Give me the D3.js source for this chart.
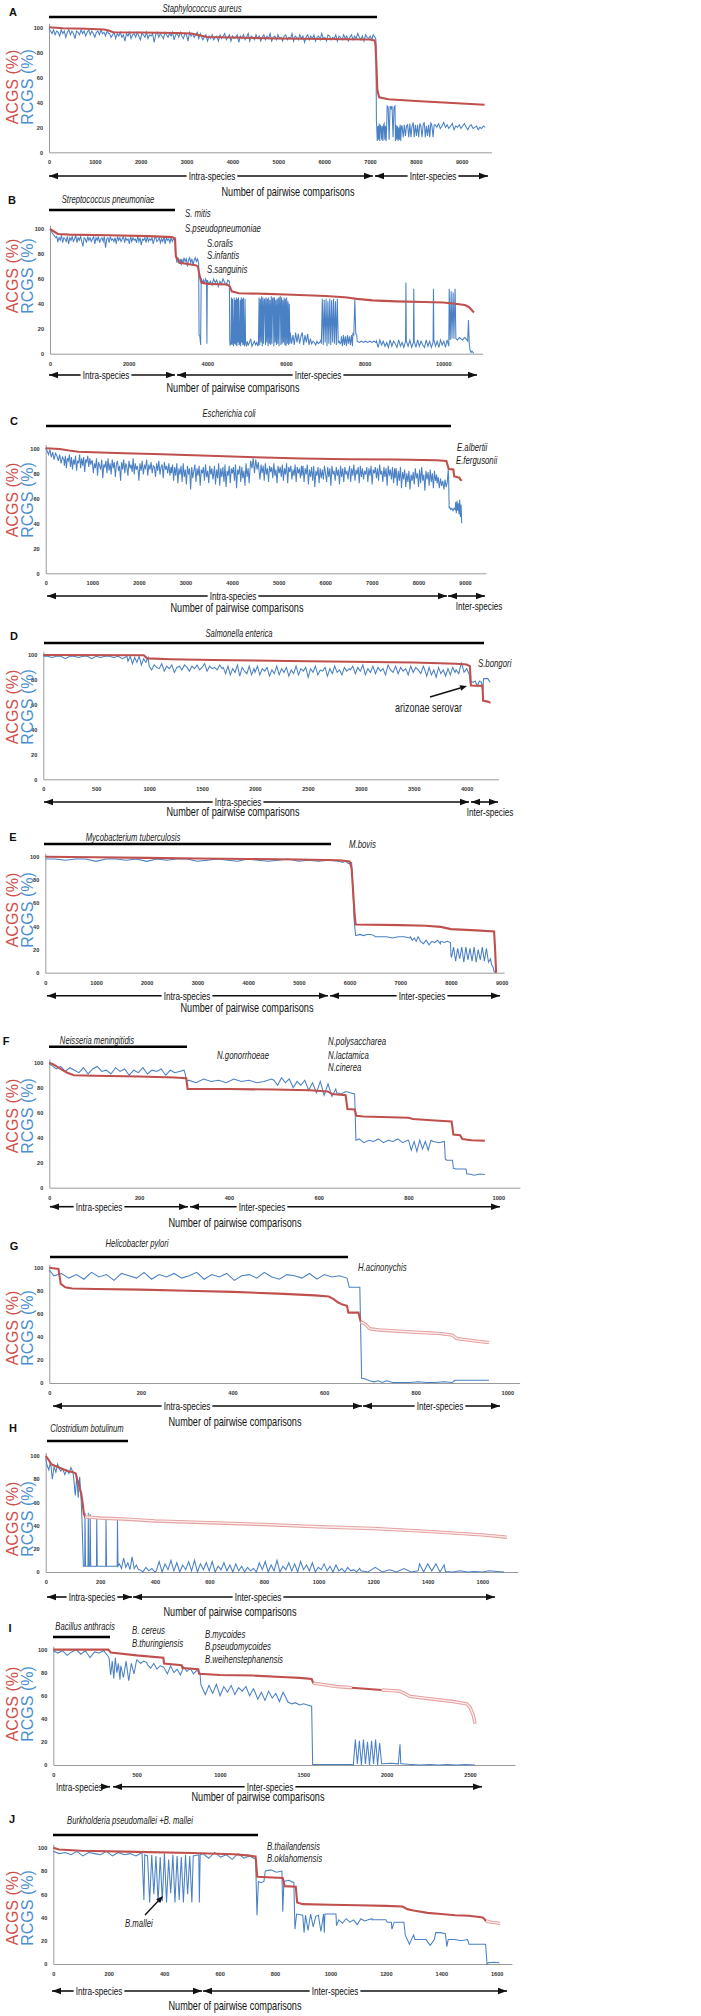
<!DOCTYPE html>
<html><head><meta charset="utf-8">
<script src="https://cdnjs.cloudflare.com/ajax/libs/d3/7.8.5/d3.min.js"></script>
<style>body{margin:0;background:#fff}svg{display:block}</style>
</head><body>
<svg id="c" width="701" height="2016"></svg>
<script>
// ---------------- DATA ----------------
// Series elements: [x,y] single point, or [xStart,xEnd,[y...]] values spread evenly over the comparison-index range
const yTicks=[0,20,40,60,80,100];

const A_title="Staphylococcus aureus";
const A_xticks=[0,1000,2000,3000,4000,5000,6000,7000,8000,9000];
const A_acgs=[[0,100],[300,99.3],[800,98.8],[1200,98.3],[1300,97.5],[1400,96],[2000,95.8],[2800,95.5],[3100,95],[3300,93.5],[3450,92.2],[4000,91.8],[5000,91],[6000,90.7],[7000,90.2],[7100,89.5],[7120,86],[7140,70],[7160,50],[7200,44],[7400,42.5],[8000,41],[8500,40],[9000,39],[9500,38]];
const A_rcgs=[[0,1300,[99,97,95,98,94,97,96,93,98,95,97,92,96,98,94,97,95,91,97,96,94,98,95,97,93,96,98,94,97,95,92,96,97,94,98,95,96,93,97,95]],
 [1320,3300,[95,92,94,96,91,95,93,96,92,94,89,95,93,96,91,94,95,92,96,93,90,95,94,92,96,91,94,93,95,88,94,96,92,95,93,91,96,94,92,95,93,96,90,94,95,92,96,93,91,95,94,89,96,93,95,92,94,96,91,95]],
 [3320,7040,[93,90,92,94,89,93,91,94,90,92,93,89,94,91,93,95,90,92,94,89,93,91,92,94,88,93,91,94,90,92,95,89,93,92,90,94,91,93,89,92,94,90,93,91,95,89,92,93,90,94,91,92,89,93,94,90,92,91,95,89,93,92,90,94,91,93,88,92,94,90,93,91,94,89,92,93,90,95,91,92,89,94,93,90,92,91,94,89,93,92,90,94,91,93,89,92,94,90,93,91,95,92,90,93,89,94,92,91,93,90]],
 [7070,94],[7110,92],[7130,90],[7140,25],
 [7145,7365,[22,9,21,10,23,9,22,20,10,21,9,22,23,10,21,9,22]],
 [7375,7545,[37,36,10,37,35,37,12,36,37]],
 [7555,7685,[9,22,10,21,9,20,10,22,9,21]],
 [7700,8400,[21,12,22,13,21,22,12,23,12,21,24,12,22,13,22,12,23,21,12,22,24,12,21,13,22,12,24,21,12,22]],
 [8420,9510,[22,20,23,19,21,24,20,22,19,21,23,18,21,20,22,19,21,23,20,18,21,22,19,20,21,18,20,19,21,20]]];
const A_notes=[];

const B_title="Streptococcus pneumoniae";
const B_xticks=[0,2000,4000,6000,8000,10000];
const B_acgs=[[0,100],[100,98],[200,96],[500,95.5],[1500,95],[2500,94.3],[3100,93.5],[3180,92.5],[3200,78],[3300,73],[3500,72],[3700,71],[3760,70],[3800,63],[3850,57],[4000,56],[4500,55.5],[4570,54],[4620,50],[4800,48.5],[5500,48],[6000,47.5],[7000,46.3],[7500,45.3],[7800,44],[8200,42.8],[8800,42],[9500,41.5],[10000,41],[10300,40],[10550,39],[10650,37.5],[10780,33]];
const B_rcgs=[[0,150,[100,97,95,93]],
 [170,3170,[94,90,93,91,95,89,93,92,90,94,88,93,91,94,90,92,95,89,93,91,94,90,86,93,92,89,94,91,93,90,92,94,88,93,91,94,89,92,93,90,94,85,92,93,89,94,91,92,90,93,88,94,91,93,90,92,94,89,93,91,92,88,94,90,93,91,92,89,94,90,93,87,92,91,93,89,94,90,92,91,93,88,92,94,90,91,93,89,92,90,94,88,93,91,92,89,93,90,92,91]],
 [3180,92],[3190,80],[3200,3340,[78,73,77,72,76,71]],
 [3350,3780,[76,72,77,74,76,70,75,77,73,76,71,75,77,74,76,72]],
 [3790,15],[3810,14],[3830,7],[3845,60],[3850,3980,[60,57,59,56,60,58]],[3990,8],
 [4000,4560,[59,56,58,55,60,57,59,54,58,56,60,57,55,59,58]],[4570,10],[4580,7],
 [4600,5000,[8,45,7,44,9,6,45,8,43,7,45,6,44,9,45,7,8,43,6,45,9,44,7,45,8,6,44,9,7,6]],
 [5010,5290,[10,7,9,12,6,8,10,7,9,6]],
 [5300,6100,[8,45,7,44,9,46,6,45,8,43,44,7,45,9,44,6,45,8,43,7,46,8,44,45,6,45,9,43,7,44,8,45,6,44,46,7,45,8,43,9,45,7,44,6,45,8,42,7,40,8]],
 [6110,6890,[17,8,15,7,17,9,16,8,14,17,7,15,9,16,7,12,8,10,9,7,10,8,9,11]],
 [6900,7400,[8,44,7,43,9,44,6,42,8,44,7,43,9,44,8,42,7,44,9,10,8,9]],
 [7410,7690,[14,6,15,7,14,6,15,8,14,7,15,6]],
 [7700,7800,[16,15,43,16,15]],
 [7810,8290,[10,9,10,9,10,9,10,9,10,9]],
 [8300,9040,[10,5,11,7,10,6,9,5,11,6,10,8,5,11,6,9,5,10]],[9050,57],
 [9060,9240,[10,6,11,5,9]],[9250,52],
 [9260,9740,[10,5,11,6,10,7,5,11,6,10,5,9]],[9750,52],
 [9760,10140,[11,6,10,5,11,7,10,5,11,6]],[10150,52],[10175,11],[10200,50],[10220,12],[10250,49],[10270,12],[10300,52],
 [10320,10620,[12,11,13,12,11,13,12,10]],[10640,27],[10660,8],[10680,10780,[3,1,2,1,0.5]]];
const B_notes=["S. mitis","S.pseudopneumoniae","S.oralis","S.infantis","S.sanguinis"];

const C_title="Escherichia coli";
const C_xticks=[0,1000,2000,3000,4000,5000,6000,7000,8000,9000];
const C_acgs=[[0,100],[300,99.5],[500,98.3],[700,97.3],[1500,96.2],[2500,95.2],[3500,94],[4500,92.8],[5500,91.9],[6500,91.3],[7500,91],[8400,90.5],[8600,89.8],[8630,86],[8650,83.5],[8750,83],[8770,77.5],[8880,76.5],[8900,75],[8930,74]];
const C_rcgs=[[0,390,[100,98,95,99,93,97,91,96,94,90,95,88,93,91]],
 [400,990,[86,94,84,92,90,95,85,93,83,91,87,94,82,90,88,95,84,92,86,93,81,91,89,94,85,92,87,90]],
 [1000,1990,[90,80,88,84,92,78,89,86,83,91,76,87,85,90,80,92,82,88,79,91,84,89,77,87,90,82,86,74,89,83,91,80,88,85,78,90,84,87,81,92,79,88,83,86,80]],
 [2000,2690,[74,88,82,90,79,86,84,91,78,87,83,89,80,86,85,77,88,82,90,79,85,87,76,89,83,86,80,88,78,85]],
 [2700,3590,[80,87,74,85,78,88,72,84,79,86,73,88,77,83,71,86,79,84,67,85,76,82,87,73,84,78,86,70,83,80,85,74,87,77,82,72,86,79,84,75]],
 [3600,4390,[78,86,71,83,76,88,70,84,77,85,73,87,69,82,78,86,72,84,80,85,74,87,68,83,79,86,73,85,76,82,70,88,77,84,72,86]],
 [4400,4590,[90,84,92,80,91,83,89,78]],
 [4600,5490,[75,87,80,86,74,88,79,84,73,86,81,85,76,88,78,83,72,86,80,85,77,87,74,84,79,88,72,85,81,86,75,83,78,87,73,85,80,84,76,86]],
 [5500,6490,[78,86,73,84,79,87,71,83,77,85,74,86,69,82,78,85,72,84,76,83,75,86,80,73,85,77,84,70,86,79,82,74,85,78,83,71,86,77,84,73,85,79,82,75]],
 [6500,7490,[80,86,73,84,78,87,74,83,79,85,72,86,77,84,75,82,79,85,73,84,78,86,71,83,80,85,76,84,74,87,79,82,73,85,77,84,70,86,78,83,75,85,72,84]],
 [7500,8390,[76,84,70,82,74,85,68,81,75,83,69,80,73,82,67,79,74,81,71,84,76,80,69,83,72,85,74,79,66,82,75,81,70,83,73,80,68,82,74,79]],
 [8400,8620,[72,77,68,76,70,74,67,75,69,73]],
 [8640,83],[8650,74],[8660,52],[8670,8790,[53,51,52,50,52,51]],
 [8800,8930,[57,48,58,50,56,47,59,45,55,40]]];
const C_notes=["E.albertii","E.fergusonii"];

const D_title="Salmonella enterica";
const D_xticks=[0,500,1000,1500,2000,2500,3000,3500,4000];
const D_acgs=[[0,100],[950,99.8],[980,97.3],[1200,96.6],[1600,96],[2500,95],[3500,94],[3900,93],[4000,92.3],[4030,91],[4040,75.5],[4150,75.2],[4155,63.2],[4200,62.5],[4225,61.5]];
const D_rcgs=[[0,790,[99,99,98,99,99,97,99,99,98,99,99,97,99,98,99,99,98,99,97,99]],
 [800,990,[95,99,93,98,94,99,92,97,94,98]],
 [1000,1690,[91,88,92,90,89,93,87,91,89,92,86,90,91,88,92,90,87,91,89,92,88,90,93,87,91,89,90,88,92,89]],
 [1700,1990,[90,85,91,84,89,86,92,83,90,87,85,91,84,89]],
 [2000,2890,[86,91,84,89,87,90,83,88,85,91,84,89,86,90,83,88,85,91,84,89,87,90,82,89,86,91,84,88,87,90,83,89,85,91,86,88,84,90,87,89]],
 [2900,3590,[88,91,85,90,87,92,84,89,86,91,85,90,87,89,84,92,88,86,91,85,90,87,89,84,91,86,90,88,85,91]],
 [3600,3890,[89,83,90,84,88,82,90,85,88,83,89,84,90,86]],
 [3900,4025,[88,85,94,86,89,84]],
 [4035,77],[4040,4140,[79,78,79,75,79,78]],[4150,71],[4160,4200,[81,81,81]],[4220,78]];
const D_notes=["S.bongori","arizonae  serovar"];

const E_title="Mycobacterium tuberculosis";
const E_xticks=[0,1000,2000,3000,4000,5000,6000,7000,8000,9000];
const E_acgs=[[0,100],[1000,99.5],[2000,99],[3000,98.5],[4000,98],[5000,97.6],[5800,97],[6000,96],[6040,90],[6070,70],[6100,50],[6120,41.5],[7000,41],[7500,40.5],[7800,39.5],[8000,37.6],[8500,36.5],[8850,35.5],[8870,20],[8890,0]];
const E_rcgs=[[0,5790,[98,98,97,98,98,96,98,98,97,98,96,98,97,98,98,96,97,98,97,96,98,97,96,97,98,96,97,96,97,96]],
 [5800,6040,[96,95,96,94,95]],[6060,80],[6090,45],[6120,32],
 [6130,6490,[32,33,32,33,33,32]],[6500,7190,[31,31,31,30,31,31,30]],
 [7200,7390,[31,28,30,27,31,28]],[7400,7790,[27,25,28,24,27,26,28,25]],
 [7800,7990,[27,26,27,26]],[8000,15],
 [8010,8780,[13,22,10,21,12,22,9,22,11,21,10,22,9,20,11,22,10,21,9,12]],
 [8800,7],[8830,5],[8850,1],[8890,0]];
const E_notes=["M.bovis"];

const F_title="Neisseria meningitidis";
const F_xticks=[0,200,400,600,800,1000];
const F_acgs=[[0,100],[10,98.5],[25,95],[40,92],[55,90],[100,89.5],[200,89],[280,88.2],[305,87.5],[308,79],[400,79],[500,78.5],[580,78],[620,77],[630,75],[660,74],[664,63],[680,62.5],[684,57.5],[700,57],[800,56],[810,55],[850,54],[896,53],[900,42.5],[915,42],[920,39],[940,38],[970,37.5]];
const F_rcgs=[[0,99],[5,300,[98,95,97,93,96,94,92,96,91,95,97,93,94,91,96,93,95,90,94,92,96,91,94,93,95,90,94,92,93,94]],
 [302,92],[306,85],[310,495,[86,84,87,85,86,84,87,85,86,84,85,87]],
 [500,638,[86,82,88,84,87,80,85,82,86,78,84,76,85,74,83,73,79]],
 [640,680,[76,75,77,76,75]],[683,38],
 [690,798,[39,36,38,37,39,36,38,37,39,36,38]],
 [800,850,[38,30,37,29,38,31,37,30,38]],[855,880,[37,36,37]],[882,23],[885,898,[22,22]],
 [900,15.5],[905,928,[15,15]],[930,11],[935,970,[11,10,11,10.5]]];
const F_notes=["N.gonorrhoeae","N.polysaccharea","N.lactamica","N.cinerea"];

const G_title="Helicobacter pylori";
const G_xticks=[0,200,400,600,800,1000];
const G_acgs=[[0,100],[20,99],[25,86],[35,83],[50,82],[100,81.5],[200,81],[300,80],[400,79],[500,77.5],[580,76],[610,75],[620,73],[630,70],[640,68],[650,67],[653,61],[675,61],[680,53],[690,51],[700,47],[720,46],[800,44],[850,43],[880,41.5],[890,38.5],[920,37],[960,35]];
const G_rcgs=[[0,98],[10,650,[93,95,91,94,90,96,92,94,89,95,93,91,96,90,94,92,95,91,93,96,90,94,92,95,89,93,94,91,96,92,90,94,93,91,95,90,94,92,93,91]],
 [655,678,[83,83,83]],[682,4],[690,3.5],[700,745,[2,1,2,0.5,2,1]],
 [750,880,[0.5,0.5,0.5,1,0.5,0.5,1,0.5]],[885,2.3],[960,2.3]];
const G_notes=["H.acinonychis"];

const H_title="Clostridium botulinum";
const H_xticks=[0,200,400,600,800,1000,1200,1400,1600];
const H_acgs=[[0,100],[10,97],[20,93],[40,91],[60,89],[80,87],[100,86],[110,85],[115,80],[120,77],[125,72],[130,68],[135,60],[140,50],[145,47.5],[200,46.5],[300,45.5],[400,44],[600,42.5],[800,41],[1000,39],[1200,37.5],[1400,35],[1600,32],[1690,30]];
const H_rcgs=[[0,98],[5,50,[92,88,95,80,91,86,93,89]],[55,100,[87,89,84,88,85,90,86]],
 [103,130,[80,66,83,64,82,62]],[133,45],[138,5],
 [143,5],[144,51],[146,5],[155,5],[156,51],[158,5],[162,5],[163,50],[165,5],[186,5],[187,48],[189,5],
 [220,5],[221,46],[223,5],[262,5],[263,46],[265,5],
 [270,340,[7,3,12,4,8,2,13,3,6,2]],[345,400,[2,0,4,1,3,0]],
 [405,1150,[1,9,0,7,2,10,1,8,0,6,2,9,1,10,0,7,2,8,1,9,0,5,2,8,1,6,0,7,1,5,0,4,1,3,0,8,2,9,0,6,1,10,0,5,2,8,1,7,0,9,2,6,1,8,0,4,2,7,1,5,0,6,1,3,0,4,1,2,0,3]],
 [1155,1365,[1,0,4,0,2,0,3,0,1]],[1370,1460,[7,0,7,1,7,0,6]],
 [1465,1680,[0.5,0,1,0,0.5,0,1,0.5,0]]];
const H_notes=[];

const I_title="Bacillus anthracis";
const I_xticks=[0,500,1000,1500,2000,2500];
const I_acgs=[[0,100],[330,100],[345,97.5],[500,95],[660,93],[665,88],[770,86.5],[775,84],[870,83],[875,79],[1000,78],[1200,77.5],[1400,76],[1480,75.5],[1550,74.5],[1560,71],[1700,68],[1790,67],[1970,65],[2080,64],[2140,59.5],[2280,57],[2400,55],[2480,53],[2500,50],[2520,43],[2530,36]];
const I_rcgs=[[0,330,[99,97,99,95,98,100,96,99,93,98,97,99,94]],
 [335,400,[92,78,90,75,93,80,88,74]],[405,500,[86,76,90,73,88,79,91]],
 [505,560,[91,88,90,89]],[565,660,[87,84,88,83,86,85]],
 [665,880,[84,79,86,80,83,78,85,81,84,79,82,80]],[885,70],
 [890,1200,[68,61,69,62,70,60,68,63,69,61,67,64,68,60,66]],
 [1205,1400,[65,57,63,56,64,58,62,55,63,57]],
 [1405,1550,[55,53,54,52,53,52,51]],[1556,0.5],[1560,1790,[0.5,0.5,0.5]],
 [1800,1970,[0,22,1,21,0,22,1,20,0,21,1,22,0,19,1]],
 [1975,2070,[1,1.5,1]],[2080,18],[2085,1],
 [2090,2530,[1,0.5,0,0.5,0,0.5,0,0.5,0]]];
const I_notes=["B. cereus","B.thuringiensis","B.mycoides","B.pseudomycoides","B.weihenstephanensis"];

const J_title="Burkholderia pseudomallei +B. mallei";
const J_xticks=[0,200,400,600,800,1000,1200,1400,1600];
const J_acgs=[[0,100],[20,98.5],[100,97.5],[300,96.5],[500,95.5],[650,94.5],[700,93.5],[730,92.5],[736,75],[828,74],[835,67],[875,66.5],[880,53],[900,51.5],[1000,51],[1100,50.5],[1200,50],[1260,49.5],[1280,47],[1300,46],[1350,44],[1400,43],[1450,42],[1500,41.5],[1550,40],[1562,37],[1580,36],[1612,35]];
const J_rcgs=[[0,320,[97,95,96,94,97,93,96,95,94,97,93,96,94,95,93,96]],[327,55],[330,94],
 [340,500,[93,53,94,60,93,53,92,54,95,53,90,61,94,53,93,55,92,53,94,60,93,53]],
 [505,525,[93,94]],[527,53],[530,94],
 [540,730,[95,91,96,92,94,90,95,91,93,90]],[735,42],
 [740,760,[71,70,71]],[765,825,[80,81,79,80]],[828,45],
 [832,868,[71,72,70]],[872,30],[878,900,[43,42]],[905,27],
 [910,975,[42,29,43,32,41,42,28,43]],[978,27],[980,1020,[43,43,43]],[1022,33],
 [1030,1150,[38,35,39,36,38,34,39,37,38,39]],[1150,1200,[38,38]],[1205,1220,[36,36]],[1222,30],
 [1230,1265,[36,36]],[1270,1300,[25,17,25]],[1305,1340,[21,21]],[1345,1375,[21,16,21]],
 [1380,1415,[27,27,26]],[1420,15],[1425,1495,[21,21,20,21]],[1500,1560,[17,17,17]],[1565,0],[1570,1610,[1,1.5,1]]];
const J_notes=["B.thailandensis","B.oklahomensis","B.mallei"];

const intraLabel="Intra-species", interLabel="Inter-species", xLabel="Number of pairwise comparisons";
const yLabelA="ACGS (%)", yLabelR="RCGS (%)";

// ---------------- LAYOUT (pixels) ----------------
const panels=[
 {id:'A',title:A_title,xticks:A_xticks,acgs:A_acgs,rcgs:A_rcgs,notes:A_notes,
  L:{letter:[13,12],title:[202,8],bar:[17,49,377],x0:49,xRef:9000,xRefPx:461.7,xMax:9650,y0:152.3,y100:27.3,yT:87,
     aY:176,intra:[49,373,212],inter:[375,488,433],xl:[288,192],notePos:[],pale:[]}},
 {id:'B',title:B_title,xticks:B_xticks,acgs:B_acgs,rcgs:B_rcgs,notes:B_notes,
  L:{letter:[12,200],title:[108,199],bar:[210,49,175],x0:50,xRef:10000,xRefPx:443.3,xMax:11000,y0:353.7,y100:229,yT:276,
     aY:375,intra:[49,175,106],inter:[177,477,318],xl:[233,388],notePos:[[185,213],[185,228],[207,243],[207,255],[207,269]],pale:[]}},
 {id:'C',title:C_title,xticks:C_xticks,acgs:C_acgs,rcgs:C_rcgs,notes:C_notes,
  L:{letter:[14,421],title:[229,413],bar:[426,46,451],x0:45.7,xRef:9000,xRefPx:465,xMax:9450,y0:573.3,y100:448.3,yT:500,
     aY:596,intra:[47,447,233],inter:[448,485,null],interBelow:[479,606],xl:[237,608],notePos:[[457,447],[456,460]],pale:[]}},
 {id:'D',title:D_title,xticks:D_xticks,acgs:D_acgs,rcgs:D_rcgs,notes:D_notes,
  L:{letter:[14,636],title:[239,633],bar:[643,44,484],x0:43.3,xRef:4000,xRefPx:466.7,xMax:4300,y0:779.3,y100:655,yT:707,
     aY:802,intra:[44,469,238],inter:[471,498,null],interBelow:[490,812],xl:[233,812],notePos:[[478,663],[395,708]],noteStyle:['i','n'],
     callout:[430,697,467,686],pale:[]}},
 {id:'E',title:E_title,xticks:E_xticks,acgs:E_acgs,rcgs:E_rcgs,notes:E_notes,
  L:{letter:[13,837],title:[133,837],bar:[844,44,331],x0:45.3,xRef:9000,xRefPx:501.7,xMax:9050,y0:972.7,y100:856.7,yT:910,
     aY:995.7,intra:[47,328,187],inter:[330,500,422],xl:[247,1007.7],notePos:[[349,844]],pale:[]}},
 {id:'F',title:F_title,xticks:F_xticks,acgs:F_acgs,rcgs:F_rcgs,notes:F_notes,
  L:{letter:[6,1041],title:[97,1040],bar:[1046.7,49,187],x0:49.3,xRef:1000,xRefPx:498.3,xMax:1048,y0:1187.7,y100:1062.7,yT:1116,
     aY:1206.7,intra:[50,188,99],inter:[190,500,262],xl:[235,1222.7],notePos:[[217,1055],[328,1041],[328,1055],[328,1067]],pale:[]}},
 {id:'G',title:G_title,xticks:G_xticks,acgs:G_acgs,rcgs:G_rcgs,notes:G_notes,
  L:{letter:[14,1246],title:[137,1243],bar:[1257,50,348],x0:49.3,xRef:1000,xRefPx:507.3,xMax:1027,y0:1383,y100:1267.7,yT:1328,
     aY:1406,intra:[53,362,187],inter:[363,500,440],xl:[235,1422],notePos:[[358,1267]],pale:[[680,1000]]}},
 {id:'H',title:H_title,xticks:H_xticks,acgs:H_acgs,rcgs:H_rcgs,notes:H_notes,
  L:{letter:[13,1428],title:[87,1428],bar:[1441,47,128],x0:45.7,xRef:1600,xRefPx:482.3,xMax:1730,y0:1572,y100:1456,yT:1519,
     aY:1597,intra:[47,132,92],inter:[133,495,258],xl:[230,1612],notePos:[],pale:[[145,2000]]}},
 {id:'I',title:I_title,xticks:I_xticks,acgs:I_acgs,rcgs:I_rcgs,notes:I_notes,
  L:{letter:[10,1628],title:[85,1626],bar:[1637,53,110],x0:53.3,xRef:2500,xRefPx:470,xMax:2770,y0:1765,y100:1649.6,yT:1704,
     aY:1786.7,intra:[53,110,'start'],inter:[113,482,270],xl:[258,1797],notePos:[[132,1630],[132,1643],[205,1634],[205,1646],[205,1659]],pale:[[1560,1790],[1970,2600]]}},
 {id:'J',title:J_title,xticks:J_xticks,acgs:J_acgs,rcgs:J_rcgs,notes:J_notes,
  L:{letter:[12,1819],title:[130,1820],bar:[1835,53,258],x0:53.3,xRef:1600,xRefPx:496.7,xMax:1655,y0:1964,y100:1847.8,yT:1908,
     aY:1991,intra:[52,202,99],inter:[203,507,335],xl:[235,2006],notePos:[[267,1846],[267,1858],[125,1923]],
     callout:[145,1915,163,1896],pale:[[1562,2000]]}}
];

// ---------------- STYLE ----------------
const ARIAL="'Liberation Sans',Arial,sans-serif";
const SX=0.75; // horizontal condensing to mimic a narrow typeface
const RED="#c0504d", BLUE="#4a80c4", RED_T="#d0504c", BLUE_T="#4a8fd0";

function expand(series){
  const pts=[];
  series.forEach(s=>{
    if(s.length===2) pts.push(s);
    else { const [a,b,v]=s, n=v.length; v.forEach((y,i)=>pts.push([n===1?a:a+(b-a)*i/(n-1),y])); }
  });
  return pts;
}

const svg=d3.select('#c');
svg.append('rect').attr('width',701).attr('height',2016).attr('fill','#fff');

function ntext(g,x,y,str,size,anchor,italic,fill){
  const gg=g.append('g').attr('transform',`translate(${x},${y}) scale(${SX},1)`);
  const t=gg.append('text').attr('dy','0.35em').attr('text-anchor',anchor||'start')
    .attr('font-family',ARIAL).attr('font-size',size).attr('font-style',italic?'italic':'normal')
    .attr('fill',fill||'#111').text(str);
  return t.node().getComputedTextLength()*SX;
}

function head(g,x,y,dir){
  const L=9,H=3.3;
  g.append('path').attr('d',`M${x},${y} L${x-dir*L},${y-H} L${x-dir*L},${y+H} Z`).attr('fill','#111');
}
function arrowLine(g,x1,x2,y,label,tx,leftHead,rightHead){
  let gaps=null;
  if(label){
    if(tx==='start'){ const w=ntext(g,x1+3,y,label,10.9,'start'); gaps=[x1-1,x1+3+w+2]; }
    else { const w=ntext(g,tx,y,label,10.9,'middle'); gaps=[tx-w/2-2,tx+w/2+2]; }
  }
  const segs=gaps?[[x1,gaps[0]],[gaps[1],x2]]:[[x1,x2]];
  segs.forEach(([a,b])=>{ if(b>a+1) g.append('line').attr('x1',a).attr('x2',b).attr('y1',y).attr('y2',y).attr('stroke','#111').attr('stroke-width',1.6); });
  if(leftHead) head(g,x1,y,-1);
  if(rightHead) head(g,x2,y,1);
}

panels.forEach(p=>{
  const L=p.L, g=svg.append('g');
  const k=(L.xRefPx-L.x0)/L.xRef;
  const x=d3.scaleLinear().domain([0,L.xMax]).range([L.x0,L.x0+k*L.xMax]);
  const yTop=103;
  const y=d3.scaleLinear().domain([0,yTop]).range([L.y0,L.y0-(L.y0-L.y100)*yTop/100]);

  const ax=g.append('g').attr('transform',`translate(0,${L.y0})`)
    .call(d3.axisBottom(x).tickValues(p.xticks).tickFormat(d3.format('d')).tickSize(0).tickSizeOuter(0).tickPadding(8));
  const ay=g.append('g').attr('transform',`translate(${L.x0},0)`)
    .call(d3.axisLeft(y).tickValues(yTicks).tickSize(0).tickSizeOuter(0).tickPadding(6));
  [ax,ay].forEach(a=>{
    a.select('.domain').attr('stroke','#9a9a9a').attr('stroke-width',1);
    a.selectAll('text').attr('font-family',ARIAL).attr('font-size',5.6).attr('font-weight','bold').attr('fill','#333');
  });

  const line=d3.line().x(d=>x(d[0])).y(d=>y(d[1]));
  const rc=expand(p.rcgs), ac=expand(p.acgs);
  g.append('path').attr('d',line(rc)).attr('fill','none').attr('stroke',BLUE).attr('stroke-width',1.05);
  g.append('path').attr('d',line(ac)).attr('fill','none').attr('stroke',RED).attr('stroke-width',2.1);
  L.pale.forEach(([a,b])=>{
    const seg=ac.filter(d=>d[0]>=a&&d[0]<=b);
    g.append('path').attr('d',line(seg)).attr('fill','none').attr('stroke','#e6a3a2').attr('stroke-width',3.4);
    g.append('path').attr('d',line(seg)).attr('fill','none').attr('stroke','#fbeeee').attr('stroke-width',1.3);
  });

  g.append('text').attr('x',L.letter[0]).attr('y',L.letter[1]).attr('dy','0.35em').attr('text-anchor','middle')
    .attr('font-family',ARIAL).attr('font-weight','bold').attr('font-size',11).attr('fill','#111').text(p.id);
  ntext(g,L.title[0],L.title[1],p.title,10.2,'middle',true,'#222');
  g.append('line').attr('x1',L.bar[1]).attr('x2',L.bar[2]).attr('y1',L.bar[0]).attr('y2',L.bar[0]).attr('stroke','#000').attr('stroke-width',2.6);

  p.notes.forEach((t,i)=>{
    const st=L.noteStyle?L.noteStyle[i]:'i';
    ntext(g,L.notePos[i][0],L.notePos[i][1],t,st==='i'?10.4:12,'start',st==='i','#222');
  });
  if(L.callout){
    const [x1,y1,x2,y2]=L.callout;
    const ang=Math.atan2(y2-y1,x2-x1), hl=7, hw=2.8;
    const bx=x2-hl*Math.cos(ang), by=y2-hl*Math.sin(ang);
    g.append('line').attr('x1',x1).attr('y1',y1).attr('x2',bx).attr('y2',by).attr('stroke','#111').attr('stroke-width',1.4);
    g.append('path').attr('d',`M${x2},${y2} L${bx-hw*Math.sin(ang)},${by+hw*Math.cos(ang)} L${bx+hw*Math.sin(ang)},${by-hw*Math.cos(ang)} Z`).attr('fill','#111');
  }

  [[yLabelA,RED_T,12],[yLabelR,BLUE_T,27]].forEach(([t,c,xx])=>{
    g.append('text').attr('transform',`translate(${xx},${L.yT}) rotate(-90)`).attr('dy','0.35em').attr('text-anchor','middle')
      .attr('font-family',ARIAL).attr('font-size',16).attr('fill',c).text(t);
  });

  if(L.intra[2]==='start') arrowLine(g,L.intra[0],L.intra[1],L.aY,intraLabel,'start',false,true);
  else arrowLine(g,L.intra[0],L.intra[1],L.aY,intraLabel,L.intra[2],true,true);
  arrowLine(g,L.inter[0],L.inter[1],L.aY,L.inter[2]===null?null:interLabel,L.inter[2],true,true);
  if(L.interBelow) ntext(g,L.interBelow[0],L.interBelow[1],interLabel,10.9,'middle');
  ntext(g,L.xl[0],L.xl[1],xLabel,12.2,'middle');
});
</script>
</body></html>
